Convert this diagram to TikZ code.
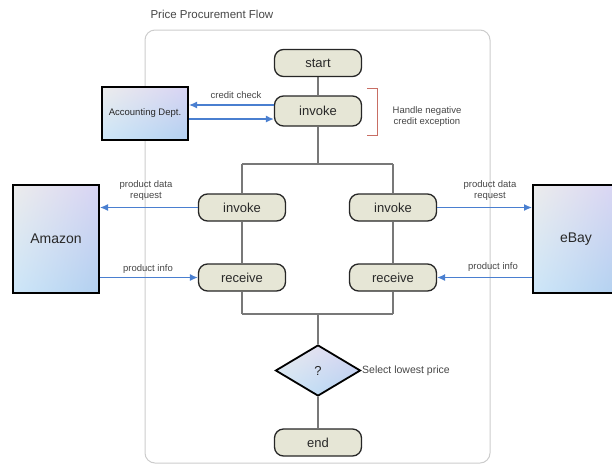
\documentclass[tikz,border=0pt]{standalone}
\usepackage{fontspec}
\setmainfont{Liberation Sans}
\usetikzlibrary{shapes.geometric,arrows.meta,backgrounds,shadings}
\definecolor{boxfill}{RGB}{230,230,214}
\definecolor{flowgray}{RGB}{120,120,120}
\definecolor{arrblue}{RGB}{74,127,208}
\definecolor{brkred}{RGB}{200,110,100}
\definecolor{txt}{RGB}{40,40,40}
\definecolor{lbl}{RGB}{70,70,70}
\definecolor{shUL}{RGB}{236,236,236}
\definecolor{shUR}{RGB}{216,212,244}
\definecolor{shLL}{RGB}{205,230,248}
\definecolor{shLR}{RGB}{178,208,240}
\tikzset{
  act/.style={draw=black!85, line width=1.3pt, fill=boxfill, rounded corners=9pt,
    minimum width=87pt, minimum height=27pt, inner sep=0pt, text=txt,
    font=\fontsize{13}{15}\selectfont},
  party/.style={draw=black, line width=2pt, upper left=shUL, upper right=shUR,
    lower left=shLL, lower right=shLR, minimum width=86pt, inner sep=0pt, text=txt},
  decide/.style={diamond, draw=black, line width=1.8pt, upper left=shUL, upper right=shUR,
    lower left=shLL, lower right=shLR, minimum width=85pt, minimum height=51pt, inner sep=0pt,
    text=txt, font=\fontsize{13}{15}\selectfont},
  flow/.style={draw=flowgray, line width=1.4pt},
  msg/.style={draw=arrblue, line width=1.2pt, -{Latex[length=8pt,width=7pt]}},
  lab/.style={text=lbl, font=\fontsize{9.5}{11}\selectfont, align=center, inner sep=0pt},
}
\begin{document}
\begin{tikzpicture}[x=1pt,y=-1pt]
\useasboundingbox (0,0) rectangle (612,469);
\clip (0,0) rectangle (612,469);

\node[anchor=west, text=lbl, font=\fontsize{11.5}{13}\selectfont] (title) at (147,14) {Price Procurement Flow};

% activity nodes
\node[act] (start) at (318,63) {start};
\node[act, minimum height=30pt] (inv0) at (318,111) {invoke};
\node[act] (inv1) at (242,207.5) {invoke};
\node[act] (inv2) at (393,207.5) {invoke};
\node[act] (rec1) at (242,277.5) {receive};
\node[act] (rec2) at (393,277.5) {receive};
\node[decide] (dec) at (318,370.5) {?};
\node[act] (end) at (318,442.5) {end};

% partners
\node[party, minimum height=53pt, font=\fontsize{9.5}{11}\selectfont] (acc) at (145,113.5) {Accounting Dept.};
\node[party, minimum height=108pt, font=\fontsize{14}{16}\selectfont] (amazon) at (56,239) {Amazon};
\node[party, minimum height=108pt, font=\fontsize{14}{16}\selectfont] (ebay) at (576,239) {eBay};

\coordinate (forkC) at (318,164);
\coordinate (forkL) at (242,164);
\coordinate (forkR) at (393,164);
\coordinate (joinC) at (318,314);
\coordinate (joinL) at (242,314);
\coordinate (joinR) at (393,314);

\begin{scope}[on background layer]
  \draw[black!20, line width=1pt, rounded corners=10pt] (145,30) rectangle (490,463);
  \draw[flow] (start) -- (inv0);
  \draw[flow] (inv0) -- (forkC);
  \draw[flow] (forkL) -- (forkR);
  \draw[flow] (forkL) -- (inv1);
  \draw[flow] (forkR) -- (inv2);
  \draw[flow] (inv1) -- (rec1);
  \draw[flow] (inv2) -- (rec2);
  \draw[flow] (rec1) -- (joinL);
  \draw[flow] (rec2) -- (joinR);
  \draw[flow] (joinL) -- (joinR);
  \draw[flow] (joinC) -- (dec);
  \draw[flow] (dec) -- (end);
\end{scope}

% messages
\draw[msg] ([yshift=6pt]inv0.west) -- ([yshift=6pt]inv0.west -| acc.east);
\draw[msg] ([yshift=-8pt]inv0.west -| acc.east) -- ([yshift=-8pt]inv0.west);
\draw[msg] (inv1.west) -- (inv1.west -| amazon.east);
\draw[msg] (rec1.west -| amazon.east) -- (rec1.west);
\draw[msg] (inv2.east) -- (inv2.east -| ebay.west);
\draw[msg] (rec2.east -| ebay.west) -- (rec2.east);

% labels
\node[lab] (lcc) at (236,95) {credit check};
\node[lab] (lreq1) at (146,191) {product data\\request};
\node[lab] (linfo1) at (148,269) {product info};
\node[lab] (lreq2) at (490,191) {product data\\request};
\node[lab] (linfo2) at (493,267) {product info};
\node[lab] (lhandle) at (427,116.5) {Handle negative\\credit exception};
\node[lab, anchor=west, font=\fontsize{10.5}{12}\selectfont] (lsel) at (362,370.5) {Select lowest price};

% bracket
\draw[brkred, line width=1pt] (367,88) -- (377,88) -- (377,135) -- (367,135);
\end{tikzpicture}
\end{document}
